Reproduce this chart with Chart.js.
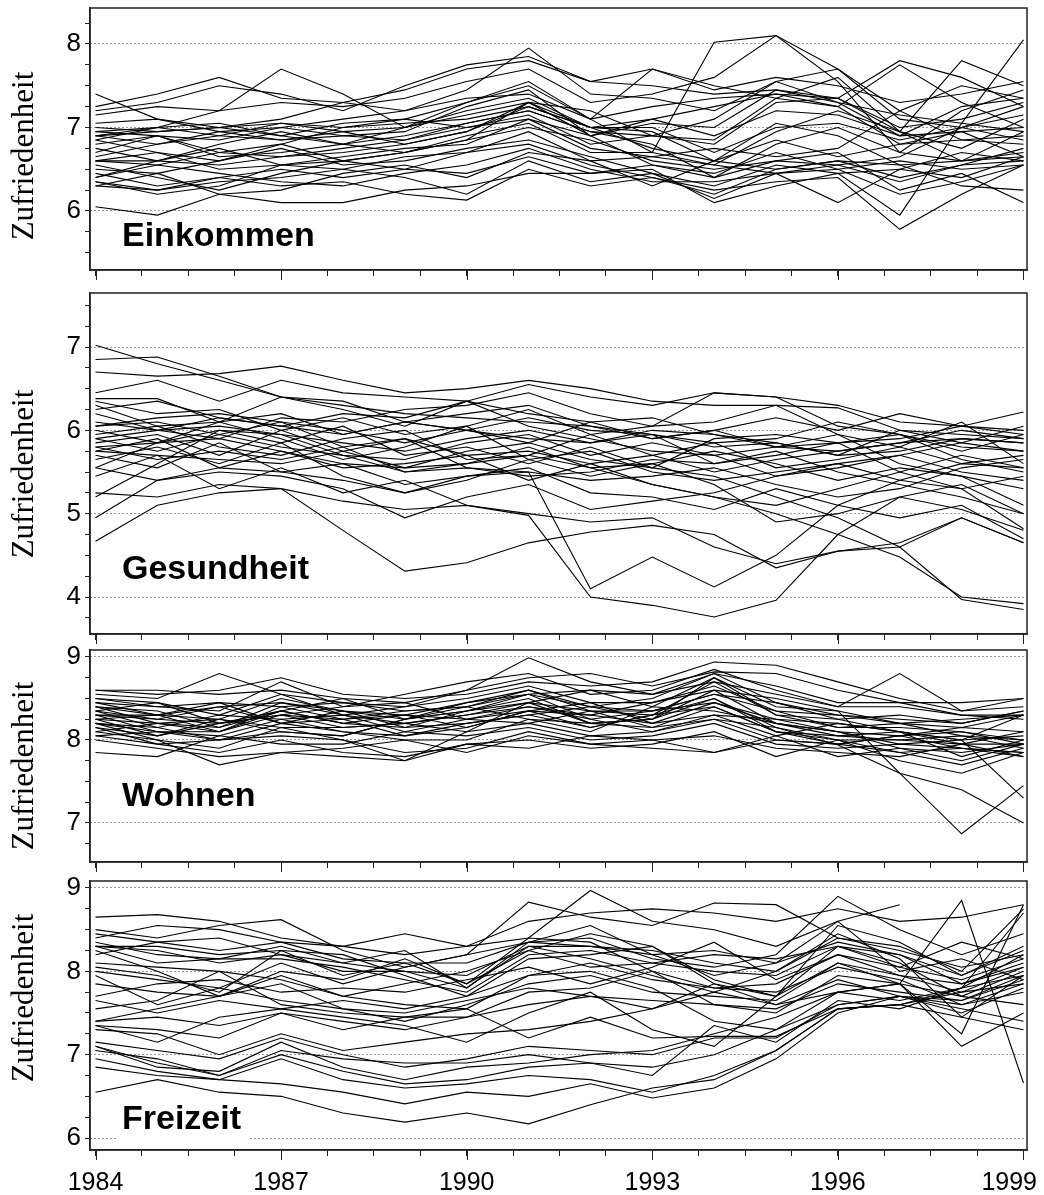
<!DOCTYPE html>
<html>
<head>
<meta charset="utf-8">
<script src="https://cdn.jsdelivr.net/npm/chart.js@4.4.1/dist/chart.umd.min.js"></script>
<style>
  html, body { margin: 0; padding: 0; background: #fff; overflow: hidden; width: 1044px; height: 1195px; }
  .panel { position: absolute; left: 0; width: 1044px; }
</style>
</head>
<body>
<div class="panel" id="w1"><canvas id="c1"></canvas></div>
<div class="panel" id="w2"><canvas id="c2"></canvas></div>
<div class="panel" id="w3"><canvas id="c3"></canvas></div>
<div class="panel" id="w4"><canvas id="c4"></canvas></div>
<script>
const years = [1984, 1985, 1986, 1987, 1988, 1989, 1990, 1991, 1992, 1993, 1994, 1995, 1996, 1997, 1998, 1999];
const xTickPos = [1984, 1984.75, 1985.5, 1986.25, 1987, 1987.75, 1988.5, 1989.25, 1990, 1990.75, 1991.5,
                  1992.25, 1993, 1993.75, 1994.5, 1995.25, 1996, 1996.75, 1997.5, 1998.25, 1999];
const yearLabels = [1984, 1987, 1990, 1993, 1996, 1999];
const yTitle = 'Zufriedenheit';
const panelNames = ['Einkommen', 'Gesundheit', 'Wohnen', 'Freizeit'];

const einkommen = [
  [7.40, 7.10, 7.00, 7.10, 7.30, 7.45, 7.70, 7.80, 7.55, 7.70, 7.45, 7.60, 7.50, 7.30, 7.40, 7.55],
  [7.25, 7.40, 7.60, 7.35, 7.30, 7.20, 7.45, 7.95, 7.40, 7.35, 7.20, 7.55, 7.70, 7.20, 7.50, 7.35],
  [7.20, 7.30, 7.50, 7.40, 7.20, 7.50, 7.75, 7.85, 7.55, 7.50, 7.40, 7.45, 7.35, 7.80, 7.60, 7.25],
  [7.15, 7.25, 7.20, 7.70, 7.40, 7.00, 7.30, 7.55, 7.10, 7.70, 7.50, 7.35, 7.60, 6.95, 7.80, 7.50],
  [7.00, 6.95, 7.00, 7.05, 7.00, 7.05, 7.10, 7.25, 7.00, 7.10, 7.25, 7.40, 7.35, 7.00, 7.10, 7.30],
  [6.95, 7.00, 6.90, 6.85, 6.95, 7.00, 7.15, 7.30, 6.90, 7.05, 7.00, 7.45, 7.30, 6.90, 6.95, 7.00],
  [6.90, 6.80, 6.95, 7.00, 6.90, 6.85, 7.05, 7.20, 6.95, 6.90, 6.85, 7.35, 7.25, 6.80, 6.85, 6.90],
  [6.90, 7.00, 7.05, 6.90, 6.80, 7.00, 7.20, 7.35, 7.00, 7.00, 6.70, 7.00, 7.05, 6.85, 7.00, 7.15],
  [6.85, 6.70, 6.60, 6.80, 7.00, 7.10, 7.00, 7.15, 6.80, 6.90, 7.10, 7.55, 7.30, 7.15, 7.05, 6.95],
  [6.80, 6.90, 6.70, 6.65, 6.75, 6.85, 7.00, 7.10, 6.75, 6.65, 6.55, 6.95, 7.20, 6.95, 6.75, 7.10],
  [6.75, 6.60, 6.80, 6.95, 6.80, 6.90, 7.05, 7.20, 6.95, 6.80, 6.40, 6.80, 7.00, 6.70, 6.60, 6.70],
  [6.70, 6.90, 6.65, 6.70, 6.80, 6.70, 6.90, 7.05, 6.70, 6.70, 6.55, 6.45, 6.55, 6.65, 7.00, 6.85],
  [6.60, 6.60, 6.55, 6.65, 6.70, 6.80, 6.95, 7.25, 7.00, 6.75, 6.60, 6.50, 6.60, 6.55, 6.60, 6.65],
  [6.60, 6.55, 6.70, 6.80, 6.60, 6.70, 6.85, 7.00, 6.85, 6.60, 6.50, 6.60, 6.55, 6.35, 6.55, 6.60],
  [6.60, 6.70, 6.50, 6.55, 6.65, 6.75, 6.80, 7.10, 6.90, 6.55, 6.45, 6.70, 6.50, 6.20, 6.35, 6.55],
  [6.50, 6.45, 6.60, 6.75, 6.55, 6.60, 6.75, 6.85, 6.65, 6.45, 6.30, 6.55, 6.45, 6.50, 6.40, 6.65],
  [6.45, 6.30, 6.40, 6.50, 6.40, 6.50, 6.70, 6.80, 6.55, 6.40, 6.20, 6.50, 6.60, 6.40, 6.55, 6.75],
  [6.40, 6.55, 6.45, 6.35, 6.30, 6.45, 6.55, 6.75, 6.50, 6.35, 6.35, 6.45, 6.50, 6.60, 6.50, 6.55],
  [6.35, 6.25, 6.35, 6.40, 6.50, 6.40, 6.20, 6.60, 6.35, 6.45, 6.15, 6.45, 6.10, 6.50, 6.70, 6.60],
  [6.35, 6.20, 6.30, 6.55, 6.60, 6.50, 6.45, 6.65, 6.45, 6.55, 6.40, 6.60, 6.70, 6.25, 6.45, 6.10],
  [6.30, 6.25, 6.40, 6.30, 6.35, 6.20, 6.13, 6.50, 6.30, 6.40, 6.25, 6.35, 6.40, 5.78, 6.20, 6.55],
  [6.05, 5.95, 6.20, 6.10, 6.10, 6.25, 6.30, 6.45, 6.45, 6.50, 6.10, 6.30, 6.45, 5.95, 7.05, 8.05],
  [6.90, 6.95, 7.00, 6.90, 7.05, 7.10, 7.30, 7.50, 7.10, 6.70, 8.02, 8.10, 7.55, 6.70, 7.20, 7.45],
  [6.85, 7.00, 7.20, 7.30, 7.25, 7.35, 7.55, 7.70, 7.30, 7.40, 7.60, 8.10, 7.70, 7.10, 7.00, 7.25],
  [6.95, 6.90, 6.85, 7.00, 7.10, 7.20, 7.35, 7.40, 7.10, 7.25, 7.35, 7.40, 7.25, 7.75, 7.30, 7.00],
  [6.55, 6.40, 6.25, 6.45, 6.60, 6.70, 6.85, 7.30, 7.00, 6.95, 6.60, 7.05, 6.90, 6.55, 6.30, 6.25],
  [6.65, 6.80, 6.90, 7.05, 6.95, 6.80, 6.95, 7.30, 7.20, 6.90, 6.80, 7.30, 7.35, 6.95, 6.60, 6.95],
  [7.05, 7.10, 6.95, 6.85, 6.90, 6.95, 7.25, 7.45, 6.90, 7.10, 6.90, 7.20, 7.15, 6.90, 7.25, 7.35],
  [6.30, 6.45, 6.20, 6.25, 6.45, 6.55, 6.40, 6.70, 6.60, 6.30, 6.60, 6.85, 6.65, 6.80, 6.95, 6.65],
  [6.40, 6.60, 6.75, 6.55, 6.50, 6.65, 6.70, 6.95, 6.60, 6.65, 6.75, 6.65, 6.75, 7.20, 6.85, 6.80]
];

const gesundheit = [
  [7.02, 6.80, 6.60, 6.40, 6.30, 6.20, 6.15, 6.10, 6.05, 5.95, 5.80, 5.85, 5.70, 5.75, 5.90, 5.85],
  [6.85, 6.88, 6.65, 6.40, 6.35, 6.10, 6.20, 6.30, 6.05, 5.90, 6.00, 5.80, 5.85, 5.90, 6.05, 6.00],
  [6.70, 6.65, 6.68, 6.77, 6.60, 6.45, 6.50, 6.60, 6.50, 6.35, 6.30, 6.30, 6.27, 6.00, 5.85, 5.75],
  [6.45, 6.60, 6.35, 6.60, 6.45, 6.40, 6.35, 6.55, 6.40, 6.30, 6.45, 6.40, 6.30, 6.10, 6.05, 5.95],
  [6.38, 6.38, 6.10, 6.40, 6.25, 6.05, 6.35, 6.20, 6.10, 5.90, 6.00, 6.15, 6.00, 6.20, 6.05, 6.22],
  [6.35, 6.20, 6.25, 6.00, 6.15, 5.95, 6.05, 6.25, 5.95, 6.05, 6.10, 6.30, 5.95, 5.80, 6.10, 5.60],
  [6.30, 6.05, 6.10, 6.20, 5.95, 6.10, 6.00, 5.85, 6.10, 6.15, 5.95, 5.85, 5.70, 6.00, 5.95, 5.90],
  [6.25, 6.35, 6.15, 6.05, 6.20, 6.15, 6.35, 6.05, 5.90, 5.75, 5.70, 5.80, 5.95, 5.60, 5.45, 5.10],
  [6.10, 6.00, 6.05, 5.95, 5.85, 5.75, 5.90, 6.00, 5.85, 5.95, 5.60, 5.70, 5.85, 5.95, 5.75, 5.95],
  [6.05, 6.10, 5.95, 6.10, 5.80, 5.90, 5.70, 5.75, 5.60, 5.70, 5.85, 5.55, 5.65, 5.80, 5.60, 5.70],
  [6.00, 5.85, 6.00, 5.85, 6.05, 5.70, 5.80, 5.60, 5.80, 5.55, 5.90, 5.95, 5.85, 5.50, 5.70, 5.55],
  [5.95, 6.05, 5.80, 5.70, 5.90, 6.00, 5.65, 5.70, 5.95, 5.70, 5.50, 5.65, 5.75, 5.85, 5.90, 5.85],
  [5.90, 5.75, 5.95, 5.80, 5.70, 5.65, 5.85, 5.95, 5.70, 5.85, 5.70, 5.45, 5.55, 5.70, 5.85, 6.05],
  [5.85, 5.95, 5.70, 6.00, 5.75, 5.55, 5.60, 5.80, 5.55, 5.60, 5.75, 5.60, 5.40, 5.55, 5.45, 5.30],
  [5.80, 5.85, 6.10, 5.90, 5.65, 5.80, 6.05, 5.65, 5.75, 5.50, 5.40, 5.50, 5.60, 5.40, 5.30, 4.82],
  [5.80, 5.65, 5.75, 5.65, 5.80, 5.50, 5.55, 5.50, 5.40, 5.45, 5.55, 5.35, 5.20, 5.30, 5.55, 5.65],
  [5.75, 5.90, 5.55, 5.75, 5.55, 5.60, 5.70, 5.40, 5.60, 5.35, 5.20, 5.10, 5.30, 5.50, 5.30, 5.45],
  [5.70, 5.55, 5.85, 5.50, 5.60, 5.35, 5.45, 5.55, 5.25, 5.20, 5.05, 5.30, 5.10, 4.95, 5.10, 4.70],
  [5.65, 5.80, 5.60, 5.85, 5.45, 5.25, 5.40, 5.65, 5.45, 5.60, 5.35, 4.90, 5.00, 5.20, 5.35, 5.00],
  [5.55, 5.40, 5.50, 5.45, 5.30, 4.95, 5.20, 5.35, 5.05, 5.15, 5.25, 5.45, 5.60, 5.70, 5.50, 5.40],
  [5.45, 5.70, 5.30, 5.55, 5.25, 5.40, 5.10, 5.00, 4.90, 4.95, 4.60, 4.40, 4.55, 4.60, 4.95, 4.65],
  [4.67, 5.10, 5.25, 5.30, 4.80, 4.31, 4.41, 4.65, 4.78, 4.86, 4.75, 4.35, 4.55, 4.65, 4.95, 4.65],
  [5.25, 5.20, 5.35, 5.30, 5.15, 5.05, 5.10, 4.98, 4.00, 3.90, 3.76, 3.96, 4.75, 5.20, 5.05, 4.80],
  [4.95, 5.40, 5.55, 5.50, 5.40, 5.25, 5.45, 5.50, 4.10, 4.48, 4.12, 4.50, 5.10, 5.40, 5.60, 5.55],
  [5.20, 5.60, 6.00, 5.95, 5.70, 5.50, 5.60, 5.70, 5.55, 5.35, 5.20, 5.00, 4.75, 4.48, 4.00, 3.92],
  [5.55, 5.85, 5.90, 5.75, 5.60, 5.55, 5.75, 5.85, 5.65, 5.55, 5.45, 5.20, 4.95, 4.60, 3.97, 3.85],
  [6.05, 6.15, 6.20, 6.10, 6.00, 5.85, 6.00, 6.15, 6.00, 5.95, 5.85, 5.90, 6.10, 5.95, 5.80, 5.75],
  [5.90, 6.00, 6.15, 6.05, 5.95, 6.10, 6.00, 5.90, 5.85, 6.00, 5.95, 5.80, 5.75, 5.85, 6.00, 5.90],
  [5.75, 5.70, 5.65, 5.60, 5.75, 5.90, 5.55, 5.45, 5.50, 5.65, 5.60, 5.75, 5.50, 5.35, 5.20, 5.00],
  [6.20, 6.00, 5.90, 6.15, 6.10, 6.25, 6.30, 6.45, 6.20, 6.05, 6.45, 6.40, 6.05, 5.95, 5.65, 5.50]
];

const wohnen = [
  [8.60, 8.55, 8.60, 8.75, 8.55, 8.50, 8.55, 8.70, 8.65, 8.70, 8.94, 8.90, 8.70, 8.50, 8.35, 8.50],
  [8.55, 8.50, 8.80, 8.55, 8.45, 8.40, 8.60, 8.99, 8.70, 8.55, 8.80, 8.65, 8.45, 8.45, 8.30, 8.30],
  [8.50, 8.40, 8.35, 8.70, 8.40, 8.55, 8.70, 8.80, 8.55, 8.60, 8.85, 8.60, 8.40, 8.80, 8.35, 8.40],
  [8.45, 8.30, 8.25, 8.50, 8.35, 8.30, 8.45, 8.55, 8.40, 8.50, 8.80, 8.45, 8.30, 8.25, 8.20, 8.35],
  [8.40, 8.35, 8.15, 8.35, 8.50, 8.25, 8.35, 8.45, 8.60, 8.40, 8.75, 8.40, 8.35, 8.20, 8.15, 8.30],
  [8.40, 8.20, 8.10, 8.40, 8.25, 8.35, 8.40, 8.60, 8.35, 8.30, 8.70, 8.30, 8.25, 8.10, 8.00, 8.05],
  [8.35, 8.25, 8.20, 8.30, 8.15, 8.20, 8.30, 8.40, 8.25, 8.35, 8.55, 8.35, 8.15, 8.15, 8.10, 8.00],
  [8.35, 8.15, 8.30, 8.25, 8.30, 8.10, 8.25, 8.35, 8.30, 8.20, 8.45, 8.25, 8.10, 8.05, 8.15, 8.10],
  [8.30, 8.30, 8.10, 8.35, 8.20, 8.15, 8.35, 8.50, 8.20, 8.25, 8.60, 8.20, 8.05, 8.10, 7.95, 7.95],
  [8.30, 8.10, 8.00, 8.20, 8.10, 8.05, 8.20, 8.30, 8.15, 8.30, 8.50, 8.15, 8.00, 8.00, 8.05, 7.90],
  [8.25, 8.20, 8.15, 8.45, 8.30, 8.20, 8.10, 8.45, 8.35, 8.15, 8.40, 8.10, 7.95, 8.05, 7.90, 7.85],
  [8.25, 8.05, 8.25, 8.10, 8.05, 8.25, 8.40, 8.25, 8.10, 8.40, 8.35, 8.20, 8.10, 7.95, 8.00, 8.30],
  [8.20, 8.00, 7.90, 8.15, 8.00, 7.75, 8.10, 8.20, 8.05, 8.10, 8.30, 8.05, 8.20, 8.10, 7.80, 8.00],
  [8.20, 8.10, 8.05, 7.95, 7.95, 8.10, 8.05, 8.15, 8.00, 8.05, 8.20, 7.95, 7.90, 7.95, 7.90, 7.80],
  [8.15, 7.95, 8.00, 8.05, 8.00, 7.85, 7.90, 8.10, 7.95, 8.00, 7.85, 8.00, 7.95, 7.85, 7.70, 7.90],
  [8.10, 8.00, 7.70, 7.85, 7.80, 7.75, 7.95, 8.00, 7.90, 7.95, 8.10, 7.80, 8.00, 7.75, 7.60, 7.85],
  [8.05, 7.95, 7.85, 8.00, 7.85, 7.80, 7.95, 7.90, 8.05, 8.00, 8.05, 7.90, 7.85, 7.80, 7.95, 8.10],
  [8.00, 7.90, 7.80, 7.85, 7.90, 8.00, 7.85, 8.05, 7.95, 7.90, 7.85, 8.05, 7.80, 7.90, 7.85, 7.95],
  [7.85, 7.80, 8.05, 8.25, 8.10, 8.00, 8.00, 8.25, 8.20, 8.15, 8.25, 8.15, 7.94, 7.60, 6.87, 7.45],
  [8.50, 8.45, 8.30, 8.55, 8.30, 8.40, 8.50, 8.65, 8.45, 8.45, 8.60, 8.50, 8.35, 7.60, 7.40, 7.00],
  [8.30, 8.25, 8.40, 8.20, 8.25, 8.30, 8.15, 8.35, 8.45, 8.20, 8.30, 8.25, 8.20, 8.10, 8.00, 7.30],
  [8.45, 8.40, 8.45, 8.40, 8.45, 8.35, 8.40, 8.55, 8.60, 8.55, 8.70, 8.55, 8.40, 8.40, 8.30, 8.25],
  [8.60, 8.60, 8.55, 8.60, 8.50, 8.45, 8.60, 8.75, 8.80, 8.65, 8.82, 8.80, 8.60, 8.45, 8.45, 8.50],
  [8.35, 8.45, 8.20, 8.30, 8.40, 8.45, 8.25, 8.40, 8.30, 8.45, 8.65, 8.35, 8.30, 8.20, 8.25, 8.30],
  [8.25, 8.30, 8.45, 8.20, 8.35, 8.15, 8.20, 8.30, 8.40, 8.25, 8.75, 8.30, 8.15, 8.20, 8.05, 8.00],
  [8.15, 8.05, 8.20, 8.35, 8.20, 8.30, 8.25, 8.20, 8.35, 8.35, 8.45, 8.20, 8.10, 7.90, 7.75, 7.95],
  [8.10, 8.20, 8.25, 8.15, 8.15, 8.20, 8.30, 8.45, 8.20, 8.25, 8.50, 8.10, 8.05, 8.00, 7.95, 7.80],
  [8.20, 8.15, 8.00, 8.10, 8.05, 8.25, 8.35, 8.55, 8.25, 8.10, 8.25, 8.00, 7.95, 8.05, 8.10, 7.95],
  [8.05, 8.10, 8.10, 8.30, 8.25, 8.05, 8.15, 8.35, 8.15, 8.30, 8.40, 8.10, 8.00, 7.85, 7.90, 7.85],
  [8.40, 8.30, 8.40, 8.45, 8.35, 8.25, 8.45, 8.60, 8.40, 8.35, 8.55, 8.45, 8.25, 8.30, 8.20, 8.35]
];

const freizeit = [
  [8.65, 8.68, 8.60, 8.40, 8.30, 8.20, 8.30, 8.60, 8.70, 8.75, 8.70, 8.60, 8.75, 8.60, 8.65, 8.80],
  [8.50, 8.40, 8.55, 8.62, 8.25, 8.05, 8.20, 8.83, 8.65, 8.55, 8.82, 8.80, 8.40, 8.30, 8.00, 8.75],
  [8.40, 8.55, 8.50, 8.35, 8.30, 8.45, 8.30, 8.40, 8.97, 8.60, 8.50, 8.30, 8.60, 8.80, null, null],
  [8.35, 8.20, 8.15, 8.30, 8.10, 8.25, 7.80, 8.35, 8.40, 8.15, 8.05, 8.20, 8.90, 8.50, 8.20, 8.45],
  [8.30, 8.30, 8.20, 8.25, 7.95, 8.10, 7.85, 8.25, 8.45, 8.30, 7.85, 7.70, 8.55, 8.35, 7.95, 8.30],
  [8.30, 8.25, 8.10, 8.20, 8.00, 8.00, 7.80, 8.30, 8.30, 8.25, 8.10, 8.00, 8.40, 8.25, 8.05, 8.20],
  [8.30, 8.10, 8.15, 8.15, 8.05, 7.90, 7.75, 8.20, 8.25, 8.10, 8.00, 7.95, 8.30, 8.05, 7.90, 8.15],
  [8.25, 8.00, 7.70, 8.00, 7.90, 8.15, 7.85, 8.40, 8.35, 8.00, 7.80, 7.85, 8.20, 7.95, 7.75, 8.05],
  [8.05, 7.95, 7.75, 8.25, 8.20, 7.95, 7.70, 8.15, 8.20, 8.30, 7.90, 7.70, 8.30, 8.10, 7.70, 8.00],
  [7.95, 7.60, 7.80, 8.10, 7.85, 8.05, 8.20, 8.35, 8.55, 8.20, 7.95, 8.10, 8.60, 8.00, 8.15, 7.90],
  [7.85, 7.75, 7.70, 7.95, 7.70, 7.85, 8.00, 8.25, 8.05, 8.10, 8.20, 8.15, 8.30, 8.20, 7.85, 8.10],
  [7.65, 7.50, 7.65, 7.55, 7.65, 7.55, 7.70, 7.95, 8.10, 7.90, 7.80, 7.75, 8.05, 7.90, 7.60, 7.85],
  [7.40, 7.55, 7.70, 7.85, 7.55, 7.40, 7.60, 7.85, 7.95, 7.75, 7.70, 7.65, 8.10, 7.95, 7.85, 8.05],
  [7.40, 7.45, 7.35, 7.50, 7.40, 7.30, 7.45, 7.60, 7.70, 7.55, 7.85, 7.60, 7.90, 7.70, 7.60, 7.75],
  [7.35, 7.15, 7.45, 7.55, 7.45, 7.35, 7.15, 7.50, 7.75, 7.30, 7.10, 7.70, 8.10, 7.85, 7.10, 7.50],
  [7.30, 7.25, 7.00, 7.25, 7.05, 7.15, 7.25, 7.30, 7.40, 7.55, 7.75, 7.60, 7.75, 7.85, 7.70, 7.60],
  [7.15, 7.05, 6.95, 7.20, 7.00, 6.85, 6.95, 7.10, 7.05, 7.00, 7.20, 7.20, 7.60, 7.70, 7.55, 7.40],
  [7.10, 6.85, 6.80, 7.15, 6.85, 6.70, 6.85, 6.90, 7.00, 7.05, 7.25, 7.45, 7.75, 7.65, 7.80, 7.95],
  [7.10, 6.90, 6.75, 7.00, 6.80, 6.65, 6.70, 6.85, 6.90, 6.85, 7.00, 7.30, 7.60, 7.70, 7.50, 7.80],
  [6.95, 6.80, 6.70, 6.95, 6.70, 6.60, 6.65, 6.75, 6.70, 6.55, 6.75, 7.05, 7.55, 7.60, 7.75, 7.85],
  [6.85, 6.75, 6.70, 6.65, 6.55, 6.41, 6.55, 6.50, 6.65, 6.48, 6.60, 6.95, 7.50, 7.70, 7.65, 7.90],
  [6.55, 6.70, 6.55, 6.50, 6.30, 6.19, 6.30, 6.17, 6.40, 6.60, 6.70, 7.05, 7.55, 7.60, 7.80, 8.20],
  [7.35, 7.30, 7.20, 7.50, 7.30, 7.45, 7.55, 7.20, 7.45, 7.20, 7.22, 7.22, 7.55, 7.60, 7.45, 7.30],
  [7.05, 6.95, 6.75, 7.05, 6.95, 6.90, 6.90, 7.00, 6.90, 6.75, 7.35, 7.15, 7.65, 7.55, 7.80, 8.70],
  [8.10, 8.05, 8.00, 7.90, 7.70, 7.60, 7.55, 7.95, 8.00, 7.80, 7.40, 7.30, 7.75, 7.85, 8.85, 6.66],
  [8.20, 8.35, 8.40, 8.20, 8.10, 8.00, 7.95, 8.30, 8.15, 7.95, 7.75, 8.00, 8.45, 8.15, 7.45, 7.95],
  [7.70, 7.85, 7.90, 7.75, 7.80, 7.75, 7.90, 8.05, 7.85, 8.05, 8.35, 7.90, 8.20, 8.05, 8.35, 8.15],
  [7.55, 7.65, 8.00, 7.60, 7.50, 7.45, 7.45, 7.75, 7.80, 8.00, 7.60, 7.50, 7.95, 7.85, 7.25, 8.80],
  [8.45, 8.35, 8.25, 8.35, 8.15, 8.10, 8.10, 8.35, 8.30, 8.20, 8.25, 8.10, 8.35, 8.20, 7.95, 8.25],
  [8.00, 7.90, 7.80, 7.65, 7.55, 7.50, 7.65, 7.80, 7.70, 7.65, 7.60, 7.55, 7.85, 7.75, 7.65, 7.95]
];

// layout: page y of plot box top/bottom, axis range, text anchors
const panels = [
  { canvas: 'c1', wrap: 'w1', rows: einkommen,  boxTop: 8,   boxBottom: 270,  min: 5.293, max: 8.431, titleY: 156,  nameY: 237 },
  { canvas: 'c2', wrap: 'w2', rows: gesundheit, boxTop: 293, boxBottom: 634,  min: 3.556, max: 7.648, titleY: 474,  nameY: 570 },
  { canvas: 'c3', wrap: 'w3', rows: wohnen,     boxTop: 650, boxBottom: 862,  min: 6.530, max: 9.084, titleY: 766,  nameY: 797 },
  { canvas: 'c4', wrap: 'w4', rows: freizeit,   boxTop: 881, boxBottom: 1150, min: 5.856, max: 9.084, titleY: 998,  nameY: 1120, years: true }
];

const PAD = 24;
const isInt = v => Math.abs(v - Math.round(v)) < 1e-6;

const decor = {
  id: 'decor',
  beforeDatasetsDraw(chart, args, o) {
    const { ctx } = chart;
    ctx.save();
    ctx.font = 'bold 34px "Liberation Sans", Arial, sans-serif';
    const w = ctx.measureText(o.name).width;
    ctx.fillStyle = '#fff';
    ctx.fillRect(o.nameX - 6, o.nameY - 21, w + 14, 42);
    ctx.fillStyle = '#000';
    ctx.textBaseline = 'middle';
    ctx.fillText(o.name, o.nameX, o.nameY);
    ctx.restore();
  },
  afterDraw(chart, args, o) {
    const { ctx, chartArea: a } = chart;
    const xs = chart.scales.x;
    ctx.save();
    // frame
    ctx.strokeStyle = '#222';
    ctx.lineWidth = 1.5;
    ctx.strokeRect(a.left, a.top, a.right - a.left, a.bottom - a.top);
    // longer marks at labelled years
    ctx.lineWidth = 1;
    ctx.beginPath();
    yearLabels.forEach(yr => {
      const px = Math.round(xs.getPixelForValue(yr)) + 0.5;
      ctx.moveTo(px, a.bottom);
      ctx.lineTo(px, a.bottom + 10);
    });
    ctx.stroke();
    // y title
    ctx.fillStyle = '#000';
    ctx.font = '31px "Liberation Serif", "Times New Roman", serif';
    ctx.textAlign = 'center';
    ctx.textBaseline = 'middle';
    ctx.translate(25, o.titleY);
    ctx.rotate(-Math.PI / 2);
    ctx.fillText(yTitle, 0, 0);
    ctx.setTransform(1, 0, 0, 1, 0, 0);
    // year labels under the last panel
    if (o.years) {
      ctx.font = '25px "Liberation Sans", Arial, sans-serif';
      yearLabels.forEach(yr => {
        const t = String(yr);
        const w = ctx.measureText(t).width;
        const px = Math.min(xs.getPixelForValue(yr), chart.width - 7 - w / 2);
        ctx.fillText(t, px, a.bottom + 33);
      });
    }
    ctx.restore();
  }
};

panels.forEach((p, k) => {
  const top = p.boxTop - PAD;
  const xh = p.years ? 1195 - p.boxBottom : 24;
  const h = PAD + (p.boxBottom - p.boxTop) + xh;
  const wrap = document.getElementById(p.wrap);
  wrap.style.top = top + 'px';
  wrap.style.height = h + 'px';

  const datasets = p.rows.map(row => ({
    data: years.map((yr, i) => ({ x: yr, y: row[i] })),
    borderColor: '#000',
    borderWidth: 1.1,
    pointRadius: 0,
    fill: false,
    tension: 0,
    spanGaps: false
  }));

  new Chart(document.getElementById(p.canvas), {
    type: 'line',
    data: { datasets },
    options: {
      responsive: true,
      maintainAspectRatio: false,
      animation: false,
      events: [],
      layout: { padding: { top: PAD, right: 17, left: 0, bottom: 0 } },
      plugins: {
        legend: { display: false },
        tooltip: { enabled: false },
        decor: { name: panelNames[k], nameX: 122, nameY: p.nameY - top, titleY: p.titleY - top, years: !!p.years }
      },
      scales: {
        x: {
          type: 'linear',
          min: 1983.911,
          max: 1999.057,
          afterBuildTicks: s => { s.ticks = xTickPos.map(v => ({ value: v })); },
          afterFit: s => { s.height = xh; s.paddingLeft = 0; s.paddingRight = 0; },
          ticks: { display: false },
          grid: { drawOnChartArea: false, drawTicks: true, tickLength: 6, tickColor: '#222', tickWidth: 1 },
          border: { display: true, color: '#222', width: 1.5 }
        },
        y: {
          min: p.min,
          max: p.max,
          afterFit: s => { s.width = 90; s.paddingTop = 0; s.paddingBottom = 0; },
          ticks: {
            stepSize: 0.25,
            includeBounds: false,
            autoSkip: false,
            padding: 4,
            color: '#000',
            font: { family: '"Liberation Sans", Arial, sans-serif', size: 26, lineHeight: 1 },
            callback: v => isInt(v) ? String(Math.round(v)) : ''
          },
          grid: {
            drawOnChartArea: true,
            drawTicks: true,
            tickLength: 5,
            tickColor: '#222',
            tickWidth: 1,
            lineWidth: 1,
            color: c => (c.tick && isInt(c.tick.value)) ? '#333' : 'rgba(0,0,0,0)'
          },
          border: { display: true, color: '#222', width: 1.5, dash: [1, 3] }
        }
      }
    },
    plugins: [decor]
  });
});
</script>
</body>
</html>
